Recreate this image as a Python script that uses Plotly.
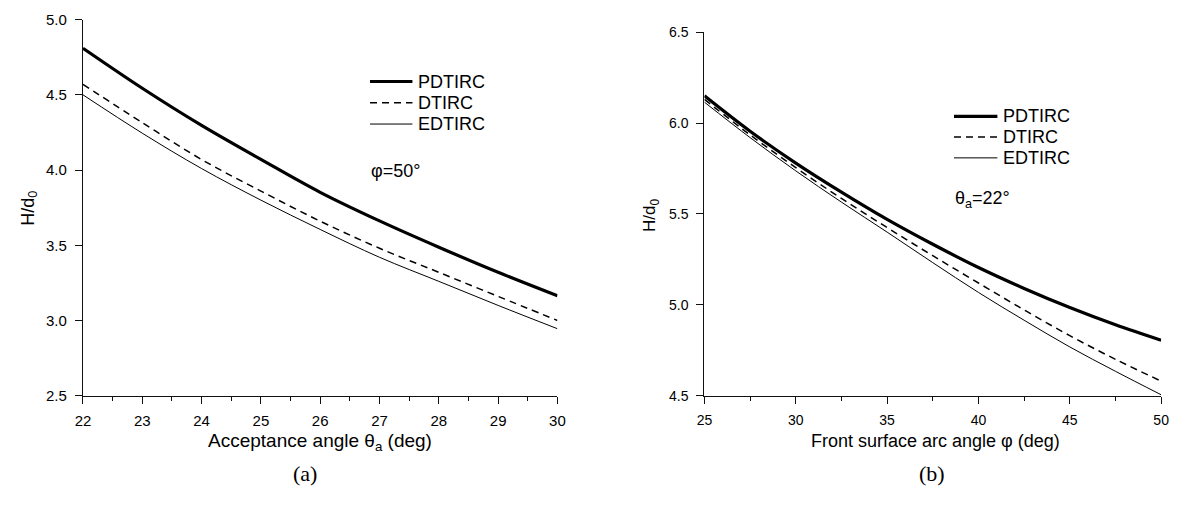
import plotly.graph_objects as go

W, H = 1180, 510

# ---- data: panel (a), H/d0 versus acceptance angle, phi = 50 deg ----
theta_a = [22, 23, 24, 25, 26, 27, 28, 29, 30]
a_pdtirc = [4.81, 4.544, 4.297, 4.071, 3.852, 3.662, 3.487, 3.320, 3.164]
a_dtirc = [4.57, 4.315, 4.070, 3.860, 3.660, 3.480, 3.320, 3.160, 3.000]
a_edtirc = [4.50, 4.245, 4.010, 3.800, 3.605, 3.420, 3.260, 3.100, 2.945]

# ---- data: panel (b), H/d0 versus front surface arc angle, theta_a = 22 deg ----
phi = [25, 27.5, 30, 32.5, 35, 37.5, 40, 42.5, 45, 47.5, 50]
b_pdtirc = [6.150, 5.955, 5.780, 5.620, 5.470, 5.333, 5.205, 5.090, 4.985, 4.890, 4.805]
b_dtirc = [6.130, 5.935, 5.755, 5.585, 5.425, 5.270, 5.120, 4.972, 4.830, 4.700, 4.580]
b_edtirc = [6.115, 5.920, 5.737, 5.565, 5.400, 5.232, 5.068, 4.915, 4.768, 4.634, 4.505]

series_names = ["PDTIRC", "DTIRC", "EDTIRC"]
a_ticks_x = [22, 23, 24, 25, 26, 27, 28, 29, 30]
a_ticks_y = [2.5, 3.0, 3.5, 4.0, 4.5, 5.0]
b_ticks_x = [25, 30, 35, 40, 45, 50]
b_ticks_y = [4.5, 5.0, 5.5, 6.0, 6.5]

styles = [
    dict(color="black", width=3.2),
    dict(color="black", width=1.5, dash="7px,5px"),
    dict(color="black", width=1.0),
]

SANS = "Liberation Sans, Arial, sans-serif"
SERIF = "Liberation Serif, DejaVu Serif, serif"


def px(x):
    return x / W


def py(y):
    return 1 - y / H


fig = go.Figure()

for name, ys, st in zip(series_names, [a_pdtirc, a_dtirc, a_edtirc], styles):
    fig.add_trace(go.Scatter(x=theta_a, y=ys, mode="lines", name=name,
                             line=dict(shape="spline", **st),
                             xaxis="x", yaxis="y", showlegend=False))
for name, ys, st in zip(series_names, [b_pdtirc, b_dtirc, b_edtirc], styles):
    fig.add_trace(go.Scatter(x=phi, y=ys, mode="lines", name=name,
                             line=dict(shape="spline", **st),
                             xaxis="x2", yaxis="y2", showlegend=False))

axis_common = dict(
    showline=True, linecolor="#111", linewidth=1.3,
    ticks="outside", ticklen=7, tickwidth=1.3, tickcolor="#111",
    showgrid=False, zeroline=False, mirror=False,
)

fig.update_layout(
    width=W, height=H,
    margin=dict(l=0, r=0, t=0, b=0),
    paper_bgcolor="white", plot_bgcolor="white",
    font=dict(family=SANS, color="black"),
    showlegend=False,
    xaxis=dict(domain=[px(76), px(557)], range=[22, 30], anchor="y",
               tickmode="array", tickvals=a_ticks_x,
               tickfont=dict(size=15), ticklabelstandoff=4,
               minor=dict(dtick=0.5, ticks="outside", ticklen=4, tickwidth=1.3,
                          tickcolor="#111", showgrid=False),
               **axis_common),
    yaxis=dict(domain=[py(400), py(11)], range=[2.5, 5.0], anchor="x",
               tickmode="array", tickvals=a_ticks_y, tickformat=".1f",
               tickfont=dict(size=15), ticklabelstandoff=5,
               **axis_common),
    xaxis2=dict(domain=[px(706), px(1169)], range=[25, 50], anchor="y2",
                tickmode="array", tickvals=b_ticks_x,
                tickfont=dict(size=14), ticklabelstandoff=4,
                minor=dict(dtick=2.5, ticks="outside", ticklen=4, tickwidth=1.3,
                           tickcolor="#111", showgrid=False),
                **axis_common),
    yaxis2=dict(domain=[py(400), py(24)], range=[4.5, 6.5], anchor="x2",
                tickmode="array", tickvals=b_ticks_y, tickformat=".1f",
                tickfont=dict(size=14), ticklabelstandoff=5,
                **axis_common),
)

annotations = []
shapes = []


def text(x, y, s, size, family=SANS, xanchor="center", angle=0):
    annotations.append(dict(x=px(x), y=py(y), xref="paper", yref="paper",
                            text=s, showarrow=False, xanchor=xanchor,
                            yanchor="middle", textangle=angle,
                            font=dict(size=size, family=family, color="black")))


# axis titles
text(316, 448, "Acceptance angle θ<sub>a</sub> (deg)", 19)
text(940, 447, "Front surface arc angle φ (deg)", 18)
text(21, 206, "H/d<sub>0</sub>", 18, angle=-90)
text(652, 214, "H/d<sub>0</sub>", 17, angle=-90)

# panel captions
text(301, 481, "(a)", 22, family=SERIF)
text(937, 481, "(b)", 22, family=SERIF)


# hand-placed legends (one per panel)
def legend(x0, x1, ys, size):
    for name, st, y in zip(series_names, styles, ys):
        shapes.append(dict(type="line", xref="paper", yref="paper",
                           x0=px(x0), x1=px(x1), y0=py(y), y1=py(y),
                           line=dict(color=st["color"], width=st["width"],
                                     dash=st.get("dash", "solid"))))
        text(x1 + 4, y, name, size, xanchor="left")


legend(367, 410, [75, 97, 119], 18)
legend(959, 1003, [111, 132.5, 154], 18)

text(366, 168, "φ=50°", 18, xanchor="left")
text(958, 197, "θ<sub>a</sub>=22°", 18, xanchor="left")

fig.update_layout(annotations=annotations, shapes=shapes)

fig.write_html("out.html")
